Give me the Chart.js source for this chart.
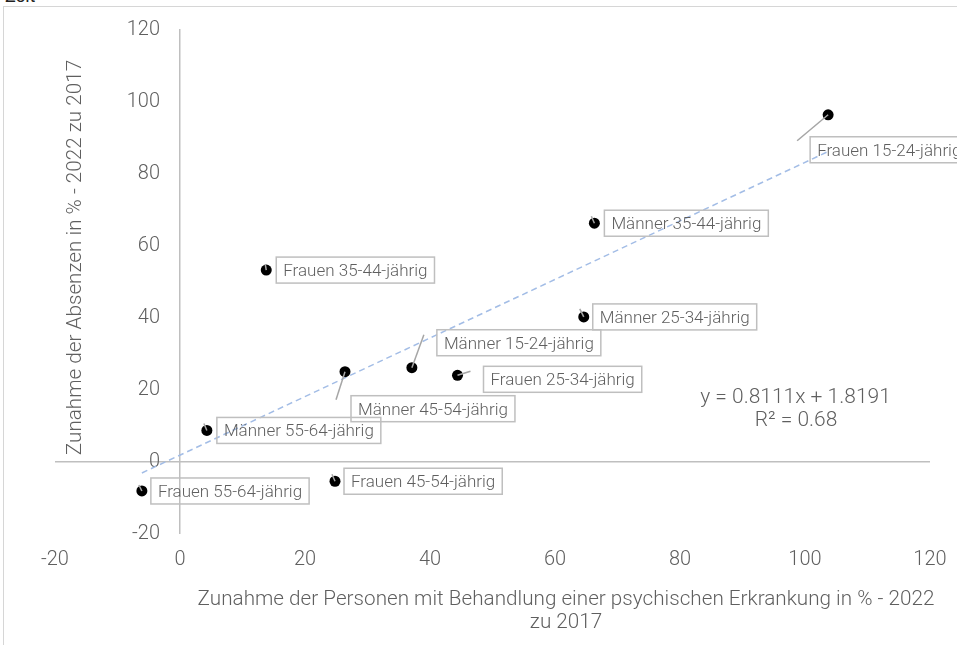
<!DOCTYPE html>
<html>
<head>
<meta charset="utf-8">
<script src="https://cdn.jsdelivr.net/npm/chart.js@4"></script>
<style>
  html, body { margin: 0; padding: 0; background: #fff; }
  #wrap { position: relative; width: 957px; height: 645px; overflow: hidden; }
  #frame { position: absolute; left: 3px; top: 6px; width: 1200px; height: 1000px; border: 1px solid #d6d6d6; box-sizing: border-box; }
  #zeit { position: absolute; left: 5px; top: -15px; font: 400 18px Roboto, sans-serif; color: #222; }
  canvas { position: absolute; left: 0; top: 0; }
</style>
</head>
<body>
<div id="wrap">
  <div id="zeit">Zeit</div>
  <div id="frame"></div>
  <canvas id="c" width="957" height="645"></canvas>
</div>
<script>
// ---- data ----
const pointLabels = [
  'Frauen 15-24-jährig', 'Männer 35-44-jährig', 'Frauen 35-44-jährig', 'Männer 25-34-jährig',
  'Männer 15-24-jährig', 'Männer 45-54-jährig', 'Frauen 25-34-jährig', 'Männer 55-64-jährig',
  'Frauen 45-54-jährig', 'Frauen 55-64-jährig'
];
const xValues = [103.7, 66.3, 13.8, 64.6, 37.1, 26.4, 44.4, 4.3, 24.8, -6.1];
const yValues = [96.2, 66.1, 53.1, 40.1, 26.0, 24.9, 23.9, 8.6, -5.5, -8.2];
const trendX = [-6.1, 103.7];
const trendY = [-3.2, 86.0];
const xTicks = [-20, 0, 20, 40, 60, 80, 100, 120];
const yTicks = [-20, 0, 20, 40, 60, 80, 100, 120];
const xTitleLines = ['Zunahme der Personen mit Behandlung einer psychischen Erkrankung in % - 2022', 'zu 2017'];
const yTitle = 'Zunahme der Absenzen in % - 2022 zu 2017';
const equationLines = ['y = 0.8111x + 1.8191', 'R² = 0.68'];

// ---- layout of labels (pixel offsets from point): [boxDx, boxDy(center), leaderDx, leaderDy] ----
const labelLayout = [
  [-18, 35, -31, 26],
  [10, 0, -3, -7],
  [10, 0, -1, -6],
  [9, 0, -4, -8],
  [25, -25, 12, -33],
  [6, 37, -9, 28],
  [26, 4, 13, -4],
  [10, 0, -3, -7],
  [9, 0, -3, -7],
  [9, 0, -3, -6]
];

const TXT = '#5f5f5f';
const FONT = "'Roboto Light', Roboto, sans-serif";

const decorPlugin = {
  id: 'decor',
  afterDatasetsDraw(chart) {
    const ctx = chart.ctx;
    const xs = chart.scales.x, ys = chart.scales.y;
    ctx.save();
    // leader lines
    ctx.strokeStyle = '#a6a6a6';
    ctx.lineWidth = 1.5;
    pointLabels.forEach((t, i) => {
      const px = xs.getPixelForValue(xValues[i]), py = ys.getPixelForValue(yValues[i]);
      const L = labelLayout[i];
      ctx.beginPath();
      ctx.moveTo(px, py);
      ctx.lineTo(px + L[2], py + L[3]);
      ctx.stroke();
    });
    // label boxes
    ctx.font = '300 17px ' + FONT;
    pointLabels.forEach((t, i) => {
      const px = xs.getPixelForValue(xValues[i]), py = ys.getPixelForValue(yValues[i]);
      const L = labelLayout[i];
      const w = ctx.measureText(t).width + 14, h = 26;
      const bx = px + L[0], by = py + L[1] - h / 2;
      ctx.strokeStyle = '#bfbfbf';
      ctx.lineWidth = 1.5;
      ctx.strokeRect(bx, by, w, h);
      ctx.fillStyle = TXT;
      ctx.textBaseline = 'middle';
      ctx.textAlign = 'left';
      ctx.fillText(t, bx + 7, by + h / 2 + 1);
    });
    // equation
    ctx.font = '300 21px ' + FONT;
    ctx.fillStyle = TXT;
    ctx.textAlign = 'center';
    ctx.textBaseline = 'middle';
    ctx.fillText(equationLines[0], 795.5, 397);
    ctx.fillText(equationLines[1], 796, 420);
    // x title
    ctx.font = '300 20.7px ' + FONT;
    ctx.fillText(xTitleLines[0], 566, 599);
    ctx.fillText(xTitleLines[1], 566, 622);
    // y title
    ctx.translate(75, 257.5);
    ctx.rotate(-Math.PI / 2);
    ctx.fillText(yTitle, 0, 0);
    ctx.restore();
  }
};

const zeroGrid = (c) => (c.tick && c.tick.value === 0) ? '#bfbfbf' : 'rgba(0,0,0,0)';

new Chart(document.getElementById('c'), {
  data: {
    datasets: [
      {
        type: 'line',
        data: trendX.map((x, i) => ({ x, y: trendY[i] })),
        borderColor: '#a3bde6',
        borderWidth: 1.5,
        borderDash: [6, 4],
        pointRadius: 0,
        fill: false,
        order: 2
      },
      {
        type: 'scatter',
        data: xValues.map((x, i) => ({ x, y: yValues[i] })),
        backgroundColor: '#000',
        borderColor: '#000',
        pointRadius: 5.5,
        borderWidth: 0,
        order: 1
      }
    ]
  },
  options: {
    responsive: false,
    animation: false,
    devicePixelRatio: 1,
    layout: { padding: { left: 55, right: 27, top: 29, bottom: 59.5 } },
    plugins: { legend: { display: false }, tooltip: { enabled: false }, title: { display: false } },
    scales: {
      x: {
        type: 'linear',
        min: -20, max: 120,
        afterBuildTicks: (s) => { s.ticks = xTicks.map(v => ({ value: v })); },
        ticks: { color: TXT, font: { family: FONT, size: 20, weight: 300, lineHeight: 2.3 }, padding: 3, maxRotation: 0 },
        grid: { color: zeroGrid, lineWidth: 1.5, drawTicks: false },
        border: { display: false }
      },
      y: {
        type: 'linear',
        min: -20, max: 120,
        position: { x: -3.2 },
        afterBuildTicks: (s) => { s.ticks = yTicks.map(v => ({ value: v })); },
        ticks: { color: TXT, font: { family: FONT, size: 20, weight: 300 }, padding: 0 },
        grid: { color: zeroGrid, lineWidth: 1.5, drawTicks: false },
        border: { display: false }
      }
    }
  },
  plugins: [decorPlugin]
});
</script>
</body>
</html>
